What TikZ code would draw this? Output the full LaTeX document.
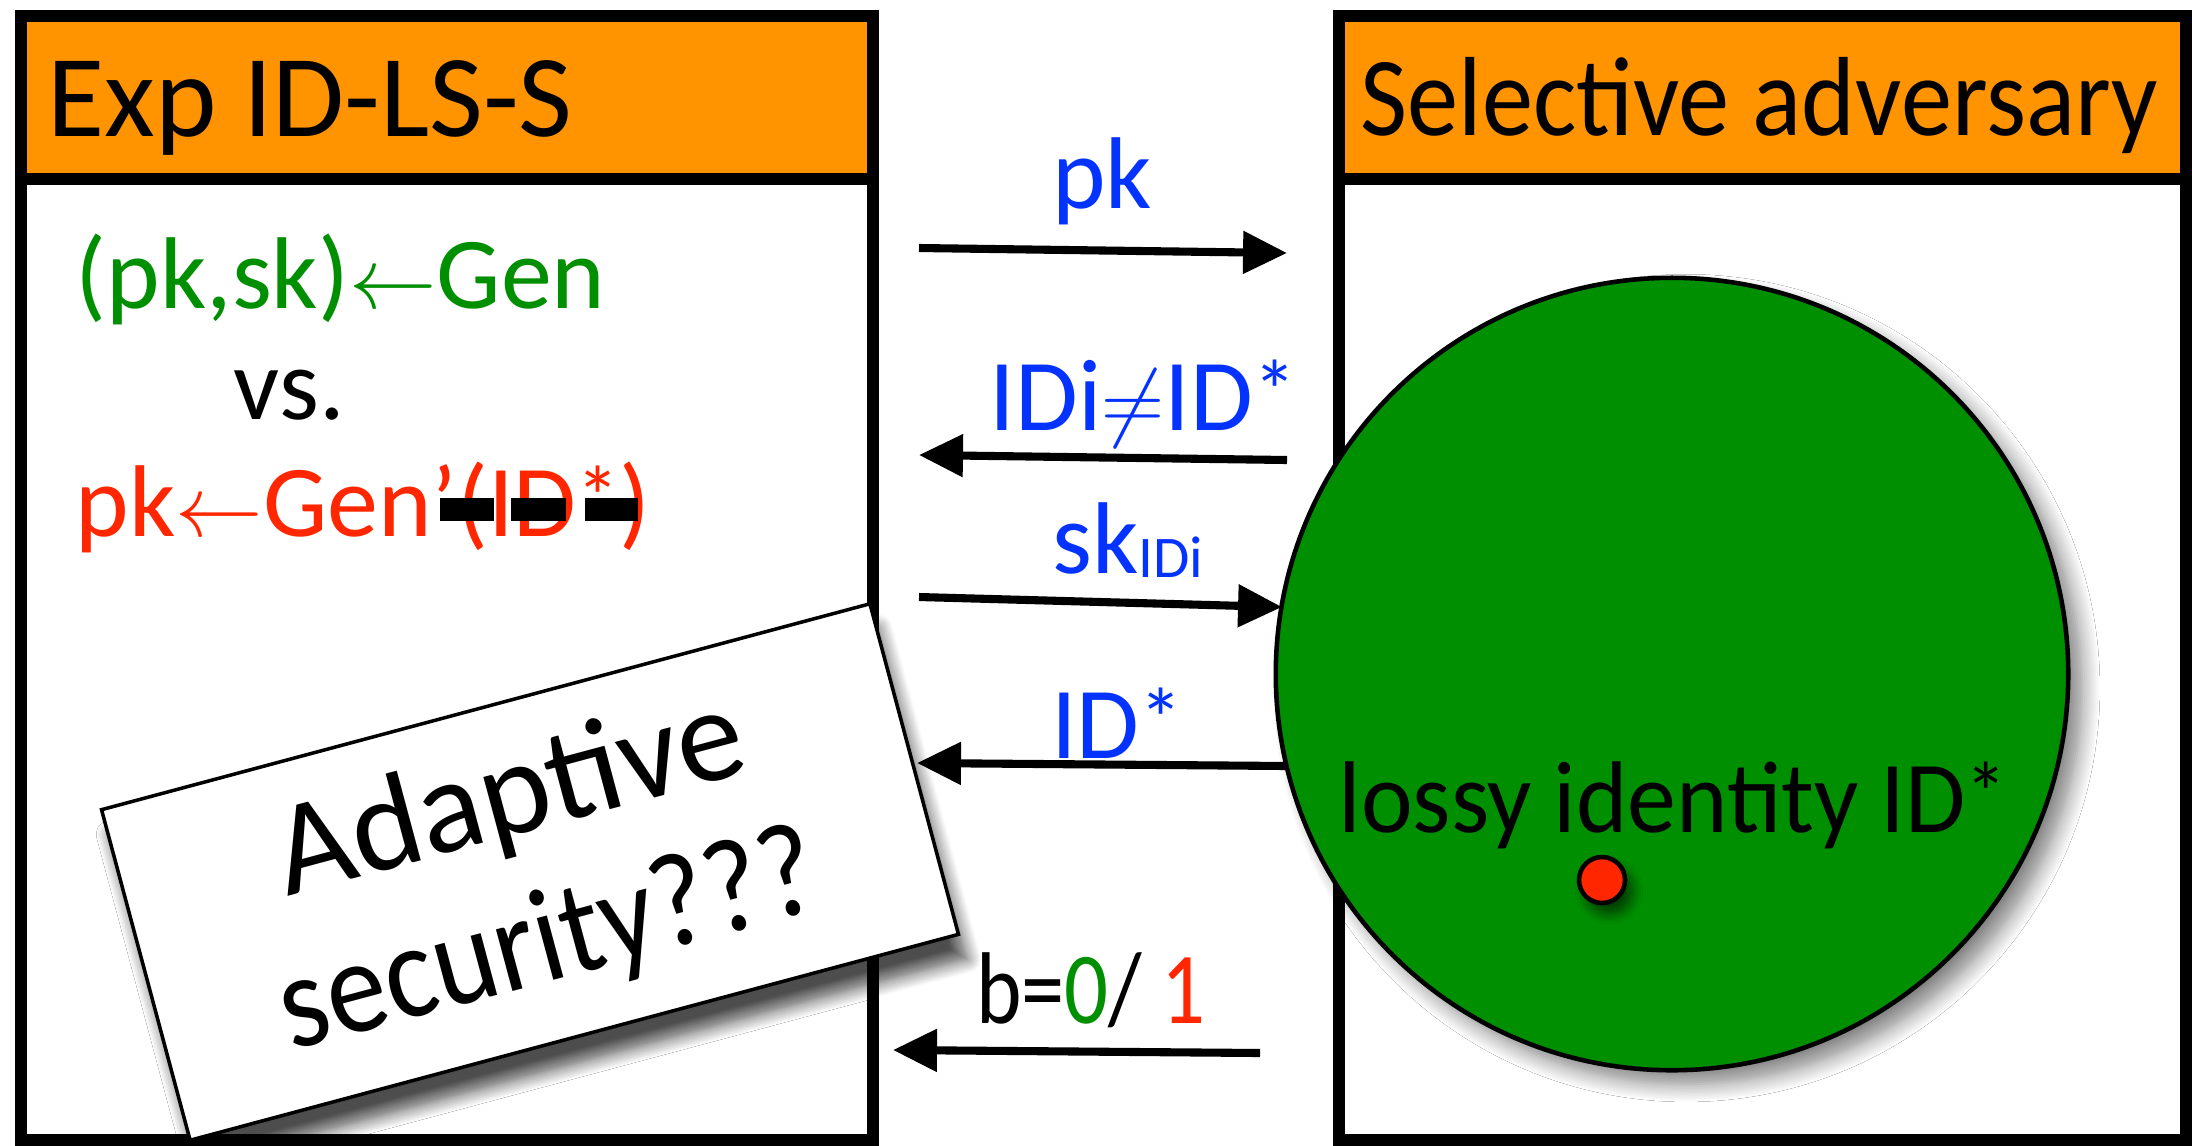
\documentclass[tikz,border=0pt]{standalone}
\usepackage{fontspec}
\setmainfont{Carlito}
\usepackage{graphicx}
\usetikzlibrary{arrows.meta,shadows.blur}
\definecolor{tang}{HTML}{FF9300}
\definecolor{blueb}{HTML}{0433FF}
\definecolor{clover}{HTML}{008F00}
\definecolor{mara}{HTML}{FF2600}
\newcommand\ststar{\raisebox{.08em}{\scalebox{.85}{*}}}
\begin{document}
\begin{tikzpicture}[x=0.01cm,y=-0.01cm,
  boxline/.style={draw=black,line width=3.4pt},
  headtxt/.style={anchor=base west,inner sep=0pt,font=\fontsize{32}{36}\selectfont},
  lbl/.style={anchor=base,inner sep=0pt,font=\fontsize{29}{34}\selectfont},
  lefttxt/.style={anchor=base west,inner sep=0pt,font=\fontsize{29}{34}\selectfont},
  msg/.style={line width=2.3pt,-{Triangle[length=12.5pt,width=11.7pt]}},
  strikebar/.style={fill=black}]
\useasboundingbox (0,0) rectangle (2192,1145);
% left box
\draw[boxline,fill=white] (21,179) rectangle (873,1140);
\draw[boxline,fill=tang] (21,16) rectangle (873,179);
% right box
\draw[boxline,fill=white] (1339,179) rectangle (2186,1140);
\draw[boxline,fill=tang] (1339,16) rectangle (2186,179);
\node[headtxt] (hl) at (47,136) {\scalebox{1.04}{Exp ID-LS-S}};
\node[headtxt] (hr) at (1360,135) {\scalebox{.91}[1]{Selective adversary}};
% left texts
\node[lefttxt,text=clover] (g1) at (75,308) {(pk,sk)$\leftarrow$Gen};
\node[lefttxt] (vs) at (233,419) {vs.};
\node[lefttxt,text=mara] (g2) at (75,536) {pk$\leftarrow$Gen’(ID\ststar)};
\fill[strikebar] (440,498) rectangle (494,521);
\fill[strikebar] (511,498) rectangle (566,521);
\fill[strikebar] (585,498) rectangle (638,521);
% adaptive box
\node[draw,line width=1pt,fill=white,rotate=15,minimum width=7.95cm,minimum height=3.42cm,
  align=center,font=\fontsize{38}{42.7}\selectfont,
  blur shadow={shadow xshift=2.5pt,shadow yshift=-7pt,shadow blur radius=4pt,shadow blur steps=10,shadow opacity=70}]
  (adapt) at (530,872) {Adaptive\\\scalebox{.9}[1]{security???}};
% adversary circle
\node[circle,draw,line width=1.3pt,fill=clover,minimum size=7.92cm,inner sep=0pt,
  blur shadow={shadow xshift=4pt,shadow yshift=-4pt,shadow blur radius=5pt,shadow blur steps=10,shadow opacity=50}]
  (adv) at (1672,674) {};
\node[lbl] (lossy) at (1673,832) {\scalebox{.96}[1]{lossy identity ID\ststar}};
\node[circle,draw,line width=1.3pt,fill=mara,minimum size=0.46cm,inner sep=0pt,
  blur shadow={shadow xshift=2pt,shadow yshift=-3pt,shadow blur radius=3pt,shadow blur steps=8,shadow opacity=60}]
  (dot) at (1602,880) {};
% arrows
\coordinate (a1s) at (919,248); \coordinate (a1e) at (1287,253);
\coordinate (a2s) at (1287,460); \coordinate (a2e) at (919,455);
\coordinate (a3s) at (919,597); \coordinate (a3e) at (1282,607);
\coordinate (a4s) at (1287,766); \coordinate (a4e) at (917,763);
\coordinate (a5s) at (1260,1053); \coordinate (a5e) at (893,1050);
\draw[msg] (a1s) -- (a1e);
\draw[msg] (a2s) -- (a2e);
\draw[msg] (a3s) -- (a3e);
\draw[msg] (a4s) -- (a4e);
\draw[msg] (a5s) -- (a5e);
% labels
\node[lbl,text=blueb] (lpk) at (1102,208) {pk};
\node[lbl,text=blueb] (lid) at (1143,430) {IDi$\neq$ID\ststar};
\node[lbl,text=blueb] (lsk) at (1128,573) {sk\raisebox{-1.4pt}{\fontsize{16.8}{18}\selectfont IDi}};
\node[lbl,text=blueb] (lids) at (1117,758) {ID\ststar};
\node[lbl] (lb) at (1091,1023) {\scalebox{.85}[1]{b=\textcolor{clover}{0}/ \textcolor{mara}{1}}};
\end{tikzpicture}
\end{document}
